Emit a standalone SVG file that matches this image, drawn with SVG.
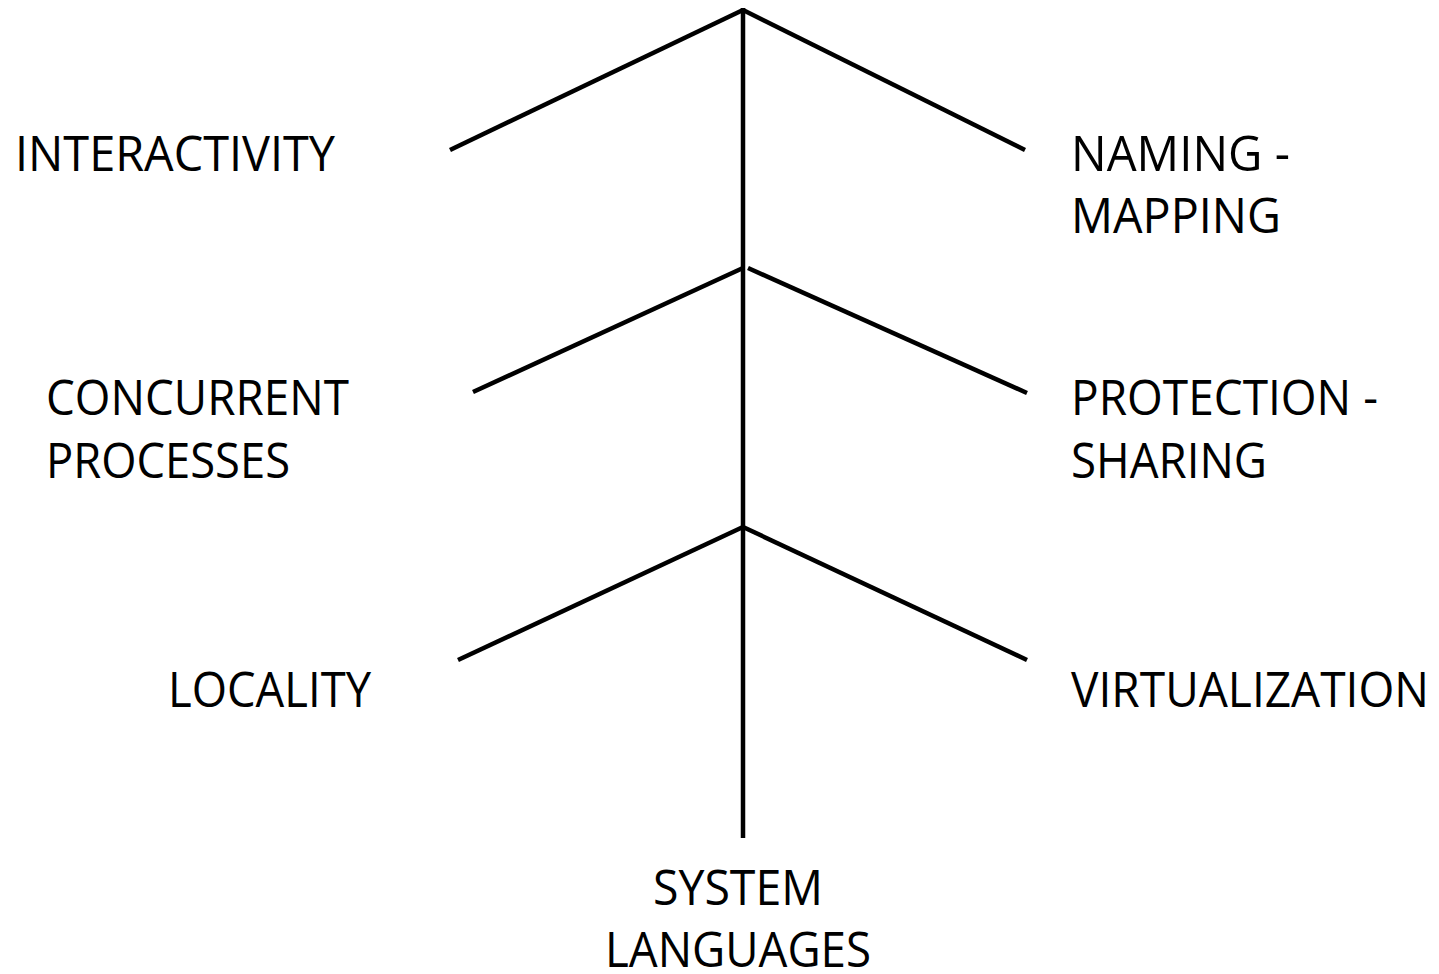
<svg xmlns="http://www.w3.org/2000/svg" width="1439" height="974" viewBox="0 0 1439 974">
  <style>
    .lbl { font-family: "Open Sans", "Liberation Sans", sans-serif; font-size: 49px; fill: #000; }
    .edge { stroke: #000; stroke-width: 4.5; fill: none; stroke-linecap: butt; }
  </style>
  <rect width="1439" height="974" fill="#fff"/>

  <!-- trunk and branches -->
  <g id="connectors">
    <line class="edge" x1="743" y1="8" x2="743" y2="838"/>
    <line class="edge" x1="743" y1="10" x2="450" y2="150"/>
    <line class="edge" x1="743" y1="10" x2="1025" y2="150"/>
    <line class="edge" x1="743" y1="268" x2="473" y2="392"/>
    <line class="edge" x1="748" y1="268" x2="1027" y2="393"/>
    <line class="edge" x1="743" y1="527" x2="458" y2="660"/>
    <line class="edge" x1="743" y1="527" x2="1027" y2="660"/>
  </g>

  <g id="interactivity">
    <text class="lbl" x="15" y="171" textLength="320" lengthAdjust="spacingAndGlyphs">INTERACTIVITY</text>
  </g>
  <g id="naming-mapping">
    <text class="lbl" x="1071" y="171" textLength="219" lengthAdjust="spacingAndGlyphs">NAMING -</text>
    <text class="lbl" x="1071" y="233" textLength="210" lengthAdjust="spacingAndGlyphs">MAPPING</text>
  </g>
  <g id="concurrent-processes">
    <text class="lbl" x="46" y="415" textLength="303" lengthAdjust="spacingAndGlyphs">CONCURRENT</text>
    <text class="lbl" x="46" y="478" textLength="244" lengthAdjust="spacingAndGlyphs">PROCESSES</text>
  </g>
  <g id="protection-sharing">
    <text class="lbl" x="1071" y="415" textLength="307" lengthAdjust="spacingAndGlyphs">PROTECTION -</text>
    <text class="lbl" x="1071" y="478" textLength="196" lengthAdjust="spacingAndGlyphs">SHARING</text>
  </g>
  <g id="locality">
    <text class="lbl" x="168" y="707" textLength="203" lengthAdjust="spacingAndGlyphs">LOCALITY</text>
  </g>
  <g id="virtualization">
    <text class="lbl" x="1071" y="707" textLength="358" lengthAdjust="spacingAndGlyphs">VIRTUALIZATION</text>
  </g>
  <g id="system-languages">
    <text class="lbl" x="653" y="905" textLength="170" lengthAdjust="spacingAndGlyphs">SYSTEM</text>
    <text class="lbl" x="605" y="967" textLength="266" lengthAdjust="spacingAndGlyphs">LANGUAGES</text>
  </g>
</svg>
